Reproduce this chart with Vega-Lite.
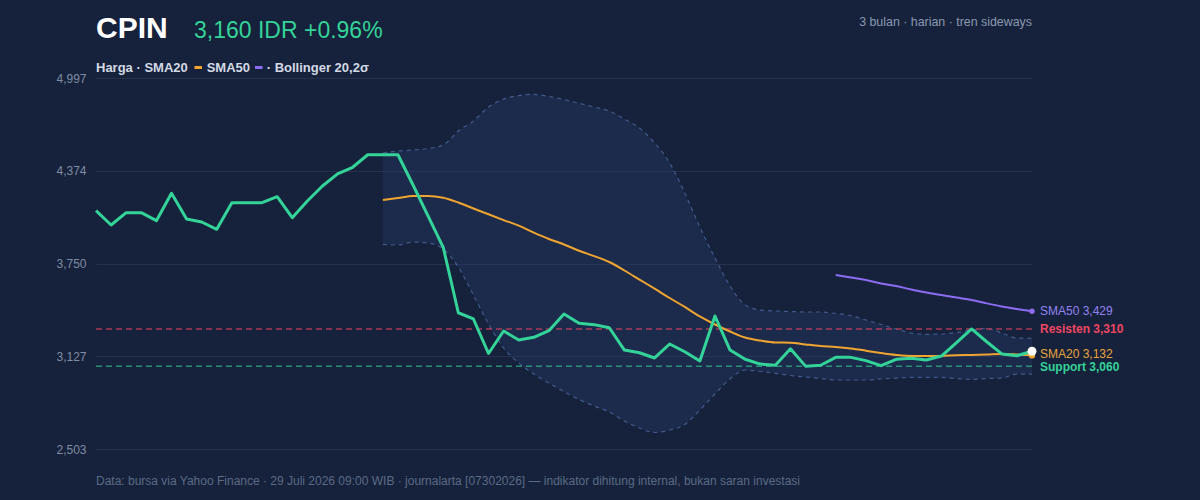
{
  "$schema": "https://vega.github.io/schema/vega-lite/v6.json",
  "autosize": {"type": "none"},
  "width": 936,
  "height": 371,
  "padding": {"left": 96, "top": 78, "right": 168, "bottom": 51},
  "background": "#16223b",
  "config": {
    "view": {"stroke": null},
    "font": "Liberation Sans",
    "text": {"font": "Liberation Sans"},
    "axisY": {
      "domain": false,
      "ticks": false,
      "grid": true,
      "gridColor": "#25314c",
      "gridWidth": 1,
      "labelColor": "#7f8ca3",
      "labelFontSize": 12,
      "labelPadding": 10,
      "labelFont": "Liberation Sans"
    }
  },
  "datasets": {
    "px": [
      {"i": 0, "price": 4105, "sma20": null, "sma50": null, "upper": null, "lower": null},
      {"i": 1, "price": 4009, "sma20": null, "sma50": null, "upper": null, "lower": null},
      {"i": 2, "price": 4092, "sma20": null, "sma50": null, "upper": null, "lower": null},
      {"i": 3, "price": 4092, "sma20": null, "sma50": null, "upper": null, "lower": null},
      {"i": 4, "price": 4038, "sma20": null, "sma50": null, "upper": null, "lower": null},
      {"i": 5, "price": 4222, "sma20": null, "sma50": null, "upper": null, "lower": null},
      {"i": 6, "price": 4049, "sma20": null, "sma50": null, "upper": null, "lower": null},
      {"i": 7, "price": 4029, "sma20": null, "sma50": null, "upper": null, "lower": null},
      {"i": 8, "price": 3980, "sma20": null, "sma50": null, "upper": null, "lower": null},
      {"i": 9, "price": 4159, "sma20": null, "sma50": null, "upper": null, "lower": null},
      {"i": 10, "price": 4159, "sma20": null, "sma50": null, "upper": null, "lower": null},
      {"i": 11, "price": 4159, "sma20": null, "sma50": null, "upper": null, "lower": null},
      {"i": 12, "price": 4199, "sma20": null, "sma50": null, "upper": null, "lower": null},
      {"i": 13, "price": 4058, "sma20": null, "sma50": null, "upper": null, "lower": null},
      {"i": 14, "price": 4170, "sma20": null, "sma50": null, "upper": null, "lower": null},
      {"i": 15, "price": 4271, "sma20": null, "sma50": null, "upper": null, "lower": null},
      {"i": 16, "price": 4352, "sma20": null, "sma50": null, "upper": null, "lower": null},
      {"i": 17, "price": 4397, "sma20": null, "sma50": null, "upper": null, "lower": null},
      {"i": 18, "price": 4481, "sma20": null, "sma50": null, "upper": null, "lower": null},
      {"i": 19, "price": 4481, "sma20": 4177, "sma50": null, "upper": 4493, "lower": 3879},
      {"i": 20, "price": 4481, "sma20": 4190, "sma50": null, "upper": 4506, "lower": 3874},
      {"i": 21, "price": 4278, "sma20": 4204, "sma50": null, "upper": 4513, "lower": 3894},
      {"i": 22, "price": 4069, "sma20": 4204, "sma50": null, "upper": 4523, "lower": 3888},
      {"i": 23, "price": 3859, "sma20": 4192, "sma50": null, "upper": 4547, "lower": 3847},
      {"i": 24, "price": 3419, "sma20": 4160, "sma50": null, "upper": 4641, "lower": 3726},
      {"i": 25, "price": 3377, "sma20": 4120, "sma50": null, "upper": 4708, "lower": 3538},
      {"i": 26, "price": 3145, "sma20": 4081, "sma50": null, "upper": 4802, "lower": 3343},
      {"i": 27, "price": 3296, "sma20": 4042, "sma50": null, "upper": 4856, "lower": 3182},
      {"i": 28, "price": 3236, "sma20": 4005, "sma50": null, "upper": 4879, "lower": 3081},
      {"i": 29, "price": 3254, "sma20": 3958, "sma50": null, "upper": 4887, "lower": 3007},
      {"i": 30, "price": 3298, "sma20": 3915, "sma50": null, "upper": 4873, "lower": 2947},
      {"i": 31, "price": 3411, "sma20": 3878, "sma50": null, "upper": 4852, "lower": 2889},
      {"i": 32, "price": 3348, "sma20": 3836, "sma50": null, "upper": 4827, "lower": 2836},
      {"i": 33, "price": 3339, "sma20": 3800, "sma50": null, "upper": 4802, "lower": 2792},
      {"i": 34, "price": 3318, "sma20": 3760, "sma50": null, "upper": 4775, "lower": 2752},
      {"i": 35, "price": 3168, "sma20": 3703, "sma50": null, "upper": 4721, "lower": 2691},
      {"i": 36, "price": 3150, "sma20": 3642, "sma50": null, "upper": 4661, "lower": 2644},
      {"i": 37, "price": 3115, "sma20": 3581, "sma50": null, "upper": 4560, "lower": 2614},
      {"i": 38, "price": 3209, "sma20": 3518, "sma50": null, "upper": 4426, "lower": 2631},
      {"i": 39, "price": 3157, "sma20": 3458, "sma50": null, "upper": 4224, "lower": 2668},
      {"i": 40, "price": 3095, "sma20": 3394, "sma50": null, "upper": 3995, "lower": 2765},
      {"i": 41, "price": 3397, "sma20": 3340, "sma50": null, "upper": 3787, "lower": 2873},
      {"i": 42, "price": 3168, "sma20": 3293, "sma50": null, "upper": 3599, "lower": 2974},
      {"i": 43, "price": 3106, "sma20": 3252, "sma50": null, "upper": 3471, "lower": 3034},
      {"i": 44, "price": 3074, "sma20": 3232, "sma50": null, "upper": 3437, "lower": 3024},
      {"i": 45, "price": 3066, "sma20": 3219, "sma50": null, "upper": 3431, "lower": 3012},
      {"i": 46, "price": 3177, "sma20": 3218, "sma50": null, "upper": 3427, "lower": 2997},
      {"i": 47, "price": 3060, "sma20": 3206, "sma50": null, "upper": 3424, "lower": 2987},
      {"i": 48, "price": 3066, "sma20": 3195, "sma50": null, "upper": 3424, "lower": 2977},
      {"i": 49, "price": 3119, "sma20": 3189, "sma50": 3673, "upper": 3414, "lower": 2967},
      {"i": 50, "price": 3119, "sma20": 3179, "sma50": 3656, "upper": 3400, "lower": 2967},
      {"i": 51, "price": 3097, "sma20": 3164, "sma50": 3639, "upper": 3370, "lower": 2967},
      {"i": 52, "price": 3063, "sma20": 3148, "sma50": 3616, "upper": 3340, "lower": 2974},
      {"i": 53, "price": 3106, "sma20": 3135, "sma50": 3599, "upper": 3310, "lower": 2980},
      {"i": 54, "price": 3113, "sma20": 3128, "sma50": 3575, "upper": 3283, "lower": 2984},
      {"i": 55, "price": 3101, "sma20": 3128, "sma50": 3555, "upper": 3274, "lower": 2985},
      {"i": 56, "price": 3128, "sma20": 3129, "sma50": 3538, "upper": 3276, "lower": 2984},
      {"i": 57, "price": 3218, "sma20": 3133, "sma50": 3521, "upper": 3286, "lower": 2977},
      {"i": 58, "price": 3310, "sma20": 3135, "sma50": 3505, "upper": 3303, "lower": 2971},
      {"i": 59, "price": 3224, "sma20": 3138, "sma50": 3482, "upper": 3314, "lower": 2977},
      {"i": 60, "price": 3142, "sma20": 3142, "sma50": 3461, "upper": 3283, "lower": 2980},
      {"i": 61, "price": 3130, "sma20": 3138, "sma50": 3444, "upper": 3249, "lower": 3007},
      {"i": 62, "price": 3160, "sma20": 3132, "sma50": 3429, "upper": 3247, "lower": 3007}
    ],
    "tags": [
      {"kind": "SMA50", "label": "SMA50 3,429", "v": 3429},
      {"kind": "Resisten", "label": "Resisten 3,310", "v": 3310},
      {"kind": "SMA20", "label": "SMA20 3,132", "v": 3132},
      {"kind": "Support", "label": "Support 3,060", "v": 3060}
    ]
  },
  "data": {"name": "px"},
  "encoding": {
    "x": {
      "field": "i",
      "type": "quantitative",
      "scale": {"domain": [0, 62], "nice": false, "zero": false},
      "axis": null
    }
  },
  "layer": [
    {
      "transform": [{"filter": "datum.upper != null"}],
      "mark": {"type": "area", "interpolate": "monotone", "color": "#2a4170", "opacity": 0.33},
      "encoding": {
        "y": {
          "field": "upper",
          "type": "quantitative",
          "title": null,
          "scale": {"domain": [2503, 4997], "nice": false, "zero": false},
          "axis": {"values": [2503, 3126.5, 3750, 4373.5, 4997], "format": ",.0f"}
        },
        "y2": {"field": "lower"}
      }
    },
    {
      "transform": [{"filter": "datum.upper != null"}],
      "mark": {"type": "line", "interpolate": "monotone", "color": "#42598a", "strokeWidth": 1.2, "strokeDash": [4, 4]},
      "encoding": {"y": {"field": "upper", "type": "quantitative", "title": null}}
    },
    {
      "transform": [{"filter": "datum.lower != null"}],
      "mark": {"type": "line", "interpolate": "monotone", "color": "#42598a", "strokeWidth": 1.2, "strokeDash": [4, 4]},
      "encoding": {"y": {"field": "lower", "type": "quantitative", "title": null}}
    },
    {
      "data": {"name": "tags"},
      "transform": [{"filter": "datum.kind == 'Resisten'"}],
      "mark": {"type": "rule", "strokeWidth": 1.5, "strokeDash": [6, 4], "opacity": 0.75, "color": "#d9415f"},
      "encoding": {
        "x": {"value": 0},
        "x2": {"value": 936},
        "y": {"field": "v", "type": "quantitative", "title": null}
      }
    },
    {
      "data": {"name": "tags"},
      "transform": [{"filter": "datum.kind == 'Support'"}],
      "mark": {"type": "rule", "strokeWidth": 1.5, "strokeDash": [6, 4], "opacity": 0.75, "color": "#2fb683"},
      "encoding": {
        "x": {"value": 0},
        "x2": {"value": 936},
        "y": {"field": "v", "type": "quantitative", "title": null}
      }
    },
    {
      "transform": [{"filter": "datum.sma20 != null"}],
      "mark": {"type": "line", "interpolate": "monotone", "color": "#f0a531", "strokeWidth": 2},
      "encoding": {"y": {"field": "sma20", "type": "quantitative", "title": null}}
    },
    {
      "transform": [{"filter": "datum.sma50 != null"}],
      "mark": {"type": "line", "interpolate": "monotone", "color": "#8b6cf2", "strokeWidth": 2},
      "encoding": {"y": {"field": "sma50", "type": "quantitative", "title": null}}
    },
    {
      "mark": {"type": "line", "color": "#34d399", "strokeWidth": 3, "strokeJoin": "round"},
      "encoding": {"y": {"field": "price", "type": "quantitative", "title": null}}
    },
    {
      "transform": [{"filter": "datum.i == 62"}],
      "mark": {"type": "circle", "color": "#8b6cf2", "size": 30, "opacity": 1},
      "encoding": {"y": {"field": "sma50", "type": "quantitative", "title": null}}
    },
    {
      "transform": [{"filter": "datum.i == 62"}],
      "mark": {"type": "circle", "color": "#f0a531", "size": 40, "opacity": 1},
      "encoding": {"y": {"field": "sma20", "type": "quantitative", "title": null}}
    },
    {
      "transform": [{"filter": "datum.i == 62"}],
      "mark": {"type": "circle", "color": "#ffffff", "size": 80, "opacity": 1},
      "encoding": {"y": {"field": "price", "type": "quantitative", "title": null}}
    },
    {
      "data": {"name": "tags"},
      "transform": [{"filter": "datum.kind == 'SMA50'"}],
      "mark": {"type": "text", "align": "left", "baseline": "middle", "fontSize": 12, "color": "#9383f1"},
      "encoding": {
        "x": {"value": 944},
        "y": {"field": "v", "type": "quantitative", "title": null},
        "text": {"field": "label", "type": "nominal"}
      }
    },
    {
      "data": {"name": "tags"},
      "transform": [{"filter": "datum.kind == 'SMA20'"}],
      "mark": {"type": "text", "align": "left", "baseline": "middle", "fontSize": 12, "dy": -1, "color": "#e9a43a"},
      "encoding": {
        "x": {"value": 944},
        "y": {"field": "v", "type": "quantitative", "title": null},
        "text": {"field": "label", "type": "nominal"}
      }
    },
    {
      "data": {"name": "tags"},
      "transform": [{"filter": "datum.kind == 'Resisten'"}],
      "mark": {"type": "text", "align": "left", "baseline": "middle", "fontSize": 12, "fontWeight": "bold", "color": "#ef4662"},
      "encoding": {
        "x": {"value": 944},
        "y": {"field": "v", "type": "quantitative", "title": null},
        "text": {"field": "label", "type": "nominal"}
      }
    },
    {
      "data": {"name": "tags"},
      "transform": [{"filter": "datum.kind == 'Support'"}],
      "mark": {"type": "text", "align": "left", "baseline": "middle", "fontSize": 12, "dy": 1, "fontWeight": "bold", "color": "#34d399"},
      "encoding": {
        "x": {"value": 944},
        "y": {"field": "v", "type": "quantitative", "title": null},
        "text": {"field": "label", "type": "nominal"}
      }
    },
    {
      "data": {"values": [{"t": "CPIN"}]},
      "mark": {"type": "text", "align": "left", "baseline": "alphabetic", "fontSize": 30, "fontWeight": "bold", "color": "#ffffff"},
      "encoding": {"x": {"value": 0}, "y": {"value": -40}, "text": {"field": "t"}}
    },
    {
      "data": {"values": [{"t": "3,160 IDR +0.96%"}]},
      "mark": {"type": "text", "align": "left", "baseline": "alphabetic", "fontSize": 23, "color": "#34d399"},
      "encoding": {"x": {"value": 98}, "y": {"value": -40}, "text": {"field": "t"}}
    },
    {
      "data": {"values": [{"t": "3 bulan · harian · tren sideways"}]},
      "mark": {"type": "text", "align": "right", "baseline": "middle", "fontSize": 12.4, "color": "#8a98b0"},
      "encoding": {"x": {"value": 936}, "y": {"value": -56}, "text": {"field": "t"}}
    },
    {
      "data": {"values": [{"t": "Harga · SMA20"}]},
      "mark": {"type": "text", "align": "left", "baseline": "alphabetic", "fontSize": 13, "fontWeight": "bold", "color": "#d3dae6"},
      "encoding": {"x": {"value": 0}, "y": {"value": -6}, "text": {"field": "t"}}
    },
    {
      "data": {"values": [{"t": "SMA50"}]},
      "mark": {"type": "text", "align": "left", "baseline": "alphabetic", "fontSize": 13, "fontWeight": "bold", "color": "#d3dae6"},
      "encoding": {"x": {"value": 110.7}, "y": {"value": -6}, "text": {"field": "t"}}
    },
    {
      "data": {"values": [{"t": "· Bollinger 20,2σ"}]},
      "mark": {"type": "text", "align": "left", "baseline": "alphabetic", "fontSize": 13, "fontWeight": "bold", "color": "#d3dae6"},
      "encoding": {"x": {"value": 170.7}, "y": {"value": -6}, "text": {"field": "t"}}
    },
    {
      "data": {"values": [{}]},
      "mark": {"type": "rule", "strokeWidth": 3, "color": "#f0a531"},
      "encoding": {"x": {"value": 98.5}, "x2": {"value": 106}, "y": {"value": -10.5}}
    },
    {
      "data": {"values": [{}]},
      "mark": {"type": "rule", "strokeWidth": 3, "color": "#8b6cf2"},
      "encoding": {"x": {"value": 159}, "x2": {"value": 166.5}, "y": {"value": -10.5}}
    },
    {
      "data": {"values": [{"t": "Data: bursa via Yahoo Finance · 29 Juli 2026 09:00 WIB · journalarta [07302026] — indikator dihitung internal, bukan saran investasi"}]},
      "mark": {"type": "text", "align": "left", "baseline": "alphabetic", "fontSize": 12, "color": "#5b6a85"},
      "encoding": {"x": {"value": 0}, "y": {"value": 407}, "text": {"field": "t"}}
    }
  ]
}
